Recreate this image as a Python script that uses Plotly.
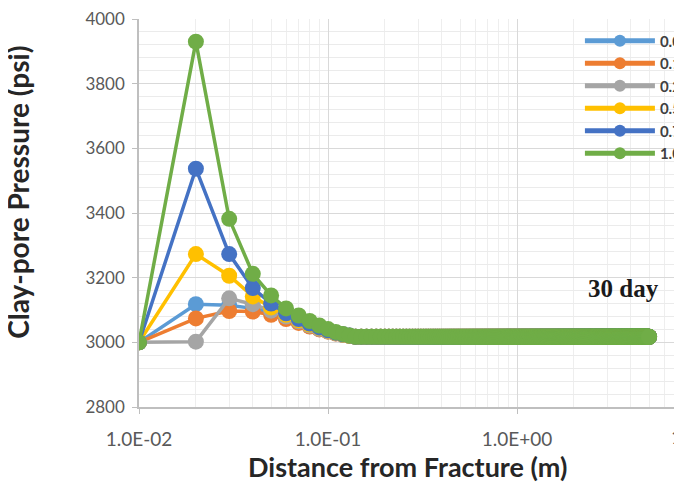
import plotly.graph_objects as go

# Simulation grid: distance from fracture (m), 0.01 m spacing out to 5 m
distance_m = [round(0.01 * i, 2) for i in range(1, 501)]

series_names = ["0.05", "0.1", "0.25", "0.5", "0.75", "1.0"]
series_colors = ["#5B9BD5", "#ED7D31", "#A5A5A5", "#FFC000", "#4472C4", "#70AD47"]

# Near-fracture clay-pore pressures (psi) read at x = 0.01 ... 0.13 m
near_005 = [3000, 3118, 3115, 3105, 3092, 3076, 3062, 3050, 3041, 3034, 3028, 3023, 3020]
near_010 = [3000, 3074, 3097, 3095, 3085, 3072, 3060, 3049, 3040, 3033, 3027, 3023, 3020]
near_025 = [3000, 3002, 3136, 3118, 3098, 3080, 3065, 3052, 3042, 3034, 3028, 3023, 3020]
near_050 = [3000, 3273, 3206, 3142, 3108, 3085, 3068, 3055, 3045, 3036, 3029, 3024, 3020]
near_075 = [3000, 3537, 3273, 3168, 3120, 3090, 3072, 3058, 3046, 3037, 3030, 3025, 3021]
near_100 = [3000, 3930, 3382, 3212, 3145, 3105, 3083, 3066, 3052, 3041, 3032, 3026, 3021]

# Far-field pressure (psi), flat beyond ~0.13 m for all cases
far_field = 3017

near_series = [near_005, near_010, near_025, near_050, near_075, near_100]

x_tickvals = [0.01, 0.1, 1, 10]
x_ticktext = ["1.0E-02", "1.0E-01", "1.0E+00", "1.0E+01"]

fig = go.Figure()
for name, color, near in zip(series_names, series_colors, near_series):
    y = near + [far_field] * (len(distance_m) - len(near))
    fig.add_trace(go.Scatter(
        x=distance_m, y=y, name=name, mode="lines+markers",
        line=dict(color=color, width=3.5),
        marker=dict(color=color, size=16),
    ))

x_tick_font = dict(family="Lato", size=19, color="#595959")
y_tick_font = dict(family="Lato", size=17, color="#595959")

# page body has an 8px margin; figure is sized/positioned to compensate
FIG_W, FIG_H = 682, 477
PLOT_L, PLOT_T, PLOT_W, PLOT_H = 131, 11, 543, 388

fig.update_layout(
    width=FIG_W, height=FIG_H,
    margin=dict(l=PLOT_L, r=FIG_W - PLOT_L - PLOT_W, t=PLOT_T, b=FIG_H - PLOT_T - PLOT_H,
                autoexpand=False),
    paper_bgcolor="white", plot_bgcolor="white",
    showlegend=True,
    legend=dict(
        x=0.812, y=0.986, xanchor="left", yanchor="top",
        bgcolor="rgba(0,0,0,0)",
        font=dict(family="Lato", size=15, color="#404040", weight="bold"),
        itemwidth=70, tracegroupgap=0, itemsizing="constant",
    ),
    xaxis=dict(
        type="log", range=[-2, 0.873],
        tickvals=x_tickvals, ticktext=x_ticktext,
        tickfont=x_tick_font, ticklabelstandoff=9,
        showgrid=True, gridcolor="#D9D9D9", gridwidth=1,
        minor=dict(showgrid=True, gridcolor="#EEEEEE", dtick="D1", ticks=""),
        showline=True, linecolor="#BFBFBF", linewidth=1.5,
        ticks="outside", ticklen=5, tickcolor="#BFBFBF",
        zeroline=False,
    ),
    yaxis=dict(
        range=[2800, 4000], dtick=200,
        tickfont=y_tick_font, ticklabelstandoff=4, ticklabeloverflow="allow",
        showgrid=True, gridcolor="#D9D9D9", gridwidth=1,
        minor=dict(showgrid=True, gridcolor="#EBEBEB", dtick=40, ticks=""),
        showline=True, linecolor="#BFBFBF", linewidth=1.5,
        ticks="outside", ticklen=5, tickcolor="#BFBFBF",
        zeroline=False,
    ),
    annotations=[
        dict(text="Distance from Fracture (m)", xref="paper", yref="paper",
             x=0.495, y=-0.153, xanchor="center", yanchor="middle", showarrow=False,
             font=dict(family="Lato", size=27, color="#262626", weight="bold")),
        dict(text="Clay-pore Pressure (psi)", xref="paper", yref="paper",
             x=-0.2228, y=0.552, xanchor="center", yanchor="middle", showarrow=False,
             textangle=-90,
             font=dict(family="Lato", size=28, color="#262626", weight="bold")),
        dict(text="30 day", xref="x", yref="y", x=0.561, y=3165,
             xanchor="center", yanchor="middle", showarrow=False,
             font=dict(family="Liberation Serif", size=25, color="#1a1a1a", weight="bold")),
        dict(text="1.0E+01", xref="paper", yref="paper",
             x=(706 - 139) / 543, y=-(436 - 407) / 388, xanchor="center", yanchor="middle",
             showarrow=False, font=x_tick_font),
    ],
)

fig.write_html("out.html")
